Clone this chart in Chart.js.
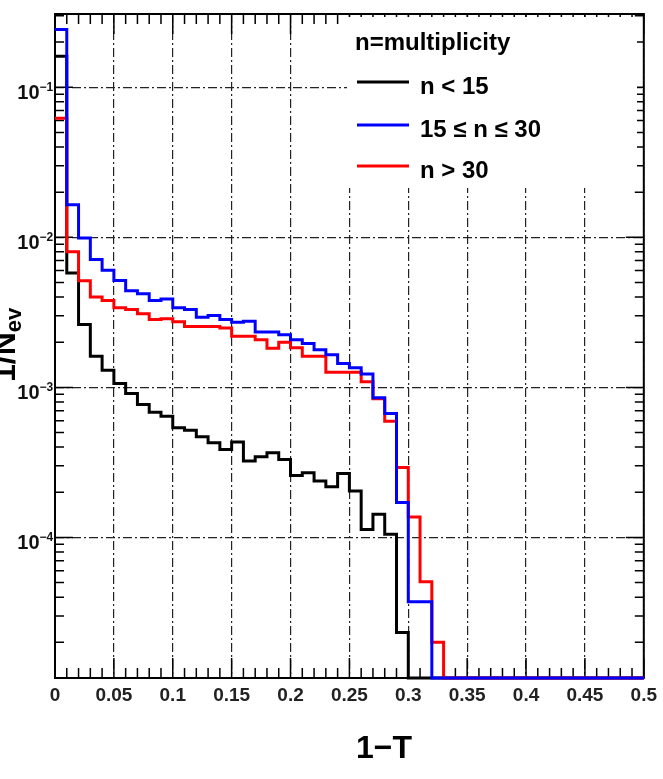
<!DOCTYPE html>
<html>
<head>
<meta charset="utf-8">
<title>1-T by multiplicity</title>
<script src="https://cdn.jsdelivr.net/npm/chart.js@4.4.1/dist/chart.umd.min.js"></script>
<style>
    body { margin: 0; background: #fff; }
    canvas { display: block; }
</style>
</head>
<body>
<canvas id="thrustChart" width="663" height="779"></canvas>
<script>
// 1-T histograms, bin width 0.01 from 0 to 0.5 (empty bins = 0)
const BIN_WIDTH = 0.01;
const X_MIN = 0;
const X_MAX = 0.5;
const Y_MIN = 1.157e-5;
const Y_MAX = 0.3078;

const seriesNames = ["n < 15", "15 \u2264 n \u2264 30", "n > 30"];
const seriesColors = ["#000000", "#0000ff", "#ff0000"];

const lowMult = [
    0.161, 0.00578, 0.00262, 0.00161, 0.00130, 0.00106, 0.000910, 0.000769, 0.000684, 0.000643,
    0.000538, 0.000519, 0.000469, 0.000428, 0.000386, 0.000432, 0.000323, 0.000345, 0.000367, 0.000331,
    0.000259, 0.000270, 0.000238, 0.000218, 0.000267, 0.000204, 0.000113, 0.000143, 0.000105, 0.0000233,
    0, 0, 0, 0, 0, 0, 0, 0, 0, 0,
    0, 0, 0, 0, 0, 0, 0, 0, 0, 0
];
const midMult = [
    0.243, 0.0165, 0.00989, 0.00712, 0.00603, 0.00516, 0.00440, 0.00420, 0.00379, 0.00388,
    0.00339, 0.00330, 0.00293, 0.00301, 0.00283, 0.00272, 0.00276, 0.00234, 0.00234, 0.00224,
    0.00208, 0.00196, 0.00178, 0.00165, 0.00144, 0.00135, 0.00123, 0.000853, 0.000670, 0.000171,
    0.0000373, 0.0000373, 0, 0, 0, 0, 0, 0, 0, 0,
    0, 0, 0, 0, 0, 0, 0, 0, 0, 0
];
const highMult = [
    0.0622, 0.00800, 0.00514, 0.00401, 0.00379, 0.00339, 0.00330, 0.00310, 0.00283, 0.00287,
    0.00274, 0.00255, 0.00255, 0.00255, 0.00249, 0.00219, 0.00219, 0.00208, 0.00182, 0.00200,
    0.00184, 0.00161, 0.00161, 0.00126, 0.00126, 0.00126, 0.00109, 0.000839, 0.000595, 0.000292,
    0.000137, 0.0000506, 0.0000200, 0, 0, 0, 0, 0, 0, 0,
    0, 0, 0, 0, 0, 0, 0, 0, 0, 0
];

const xTickValues = [0, 0.05, 0.1, 0.15, 0.2, 0.25, 0.3, 0.35, 0.4, 0.45, 0.5];
const xTickLabels = ["0", "0.05", "0.1", "0.15", "0.2", "0.25", "0.3", "0.35", "0.4", "0.45", "0.5"];
const yTickValues = [1e-4, 1e-3, 1e-2, 1e-1];
const yTickExponents = ["\u22124", "\u22123", "\u22122", "\u22121"];

const FONT = "'Liberation Sans', Arial, Helvetica, sans-serif";

function histPoints(values) {
    // empty bins sit on the bottom of the log frame, like ROOT draws them
    const pts = values.map((v, i) => ({ x: Math.round(i * BIN_WIDTH * 100) / 100, y: v > 0 ? v : Y_MIN }));
    pts.push({ x: X_MAX, y: pts[pts.length - 1].y });
    return pts;
}

function histDataset(values, idx, order) {
    return {
        label: seriesNames[idx],
        data: histPoints(values),
        borderColor: seriesColors[idx],
        borderWidth: 3,
        stepped: 'before',
        pointRadius: 0,
        fill: false,
        clip: 2,
        order: order
    };
}

const rootFrame = {
    id: 'rootFrame',
    beforeDatasetsDraw(chart) {
        const { ctx, chartArea: a, scales: { x, y } } = chart;
        ctx.save();
        ctx.strokeStyle = '#000';
        ctx.lineWidth = 1.5;
        ctx.beginPath();
        // x ticks, bottom and top, pointing inside
        for (let k = 0; k <= 50; k++) {
            const px = x.getPixelForValue(k / 100);
            const len = k % 5 === 0 ? 20 : 10;
            ctx.moveTo(px, a.bottom); ctx.lineTo(px, a.bottom - len);
            ctx.moveTo(px, a.top); ctx.lineTo(px, a.top + len);
        }
        // y ticks, left and right
        for (let d = -5; d <= -1; d++) {
            for (let m = 1; m <= 9; m++) {
                const v = m * Math.pow(10, d);
                if (v < Y_MIN || v > Y_MAX) continue;
                const py = y.getPixelForValue(v);
                const len = m === 1 ? 18 : 9;
                ctx.moveTo(a.left, py); ctx.lineTo(a.left + len, py);
                ctx.moveTo(a.right, py); ctx.lineTo(a.right - len, py);
            }
        }
        ctx.stroke();

        // legend box (white, hides the grid under it)
        ctx.fillStyle = '#fff';
        ctx.fillRect(347, a.top + 3, 290, 188 - a.top - 3);

        ctx.lineWidth = 2;
        ctx.strokeRect(a.left, a.top, a.right - a.left, a.bottom - a.top);
        ctx.restore();
    },
    afterDraw(chart) {
        const { ctx, chartArea: a, scales: { y } } = chart;
        ctx.save();
        ctx.fillStyle = '#111';

        // y labels 10^-n
        yTickValues.forEach((v, i) => {
            const py = y.getPixelForValue(v);
            ctx.font = 'bold 20px ' + FONT;
            ctx.textAlign = 'right';
            ctx.textBaseline = 'alphabetic';
            ctx.fillText('10', 39.5, py + 12);
            ctx.font = 'bold 12px ' + FONT;
            ctx.textAlign = 'left';
            ctx.fillText(yTickExponents[i], 39.5, py + 4);
        });

        // axis titles
        ctx.fillStyle = '#000';
        ctx.font = 'bold 32px ' + FONT;
        ctx.textAlign = 'center';
        ctx.fillText('1\u2212T', 384, 758);

        ctx.save();
        ctx.translate(15, 382);
        ctx.rotate(-Math.PI / 2);
        ctx.textAlign = 'left';
        ctx.font = 'bold 32px ' + FONT;
        ctx.fillText('1/N', 0, 0);
        const w = ctx.measureText('1/N').width;
        ctx.font = 'bold 22px ' + FONT;
        ctx.fillText('ev', w, 6);
        ctx.restore();

        // legend
        ctx.textAlign = 'left';
        ctx.font = 'bold 24px ' + FONT;
        ctx.fillText('n=multiplicity', 355, 50);
        const rows = [82, 125, 166];
        seriesNames.forEach((name, i) => {
            ctx.strokeStyle = seriesColors[i];
            ctx.lineWidth = 3;
            ctx.beginPath();
            ctx.moveTo(357, rows[i]);
            ctx.lineTo(409, rows[i]);
            ctx.stroke();
            ctx.fillStyle = '#000';
            ctx.fillText(name, 420, rows[i] + 12);
        });
        ctx.restore();
    }
};

const ctx = document.getElementById('thrustChart').getContext('2d');
new Chart(ctx, {
    type: 'line',
    data: {
        datasets: [
            histDataset(lowMult, 0, 3),
            histDataset(midMult, 1, 1),
            histDataset(highMult, 2, 2)
        ]
    },
    options: {
        responsive: false,
        animation: false,
        devicePixelRatio: 1,
        layout: { padding: { top: 14, right: 16, left: 0, bottom: 0 } },
        elements: { line: { tension: 0 } },
        plugins: {
            legend: { display: false },
            tooltip: { enabled: false }
        },
        scales: {
            x: {
                type: 'linear',
                min: X_MIN,
                max: X_MAX,
                afterFit: s => { s.height = 101; },
                afterBuildTicks: s => { s.ticks = xTickValues.map(v => ({ value: v })); },
                ticks: {
                    padding: 6,
                    maxRotation: 0,
                    autoSkip: false,
                    color: '#222',
                    font: { family: FONT, size: 19, weight: 'bold' },
                    callback: (value) => xTickLabels[xTickValues.indexOf(value)]
                },
                grid: { color: '#222', lineWidth: 1.2, drawTicks: false },
                border: { display: false, dash: [9, 3, 2, 3] }
            },
            y: {
                type: 'logarithmic',
                min: Y_MIN,
                max: Y_MAX,
                afterFit: s => { s.width = 55; },
                afterBuildTicks: s => { s.ticks = yTickValues.map(v => ({ value: v })); },
                ticks: { display: false },
                grid: { color: '#222', lineWidth: 1.2, drawTicks: false },
                border: { display: false, dash: [9, 3, 2, 3] }
            }
        }
    },
    plugins: [rootFrame]
});
</script>
</body>
</html>
